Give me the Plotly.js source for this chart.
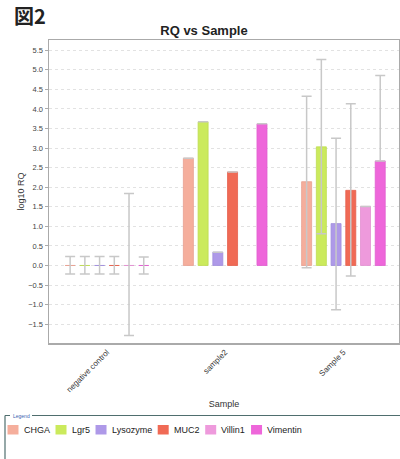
<!DOCTYPE html>
<html><head><meta charset="utf-8">
<script src="https://cdn.plot.ly/plotly-3.0.1.min.js"></script>
<style>html,body{margin:0;padding:0;background:#fff}#chart{width:400px;height:459px}</style>
</head><body><div id="chart"></div>
<script>
const categories = ['negative control', 'sample2', 'Sample 5'];
const seriesNames = ['CHGA', 'Lgr5', 'Lysozyme', 'MUC2', 'Villin1', 'Vimentin'];
const seriesColors = ['#F5AE9C', '#CBEA5C', '#AE99E8', '#F06A55', '#EE9ADC', '#EE66DA'];
const seriesLines = ['#E8A090', '#BEDC52', '#A08EDC', '#E4604C', '#E290D0', '#E05ECE'];

const CHGA = [0, 2.74, 2.14];
const Lgr5 = [0, 3.67, 3.03];
const Lysozyme = [0, 0.34, 1.07];
const MUC2 = [0, 2.39, 1.92];
const Villin1 = [0, null, 1.51];
const Vimentin = [0, 3.62, 2.67];

const CHGA_errPlus = [0.23, null, 2.18];
const CHGA_errMinus = [0.22, null, 2.20];
const Lgr5_errPlus = [0.23, null, 2.23];
const Lgr5_errMinus = [0.22, null, 2.22];
const Lysozyme_errPlus = [0.23, null, 2.18];
const Lysozyme_errMinus = [0.22, null, 2.20];
const MUC2_errPlus = [0.23, null, 2.21];
const MUC2_errMinus = [0.22, null, 2.19];
const Villin1_errPlus = [1.84, null, null];
const Villin1_errMinus = [1.79, null, null];
const Vimentin_errPlus = [0.22, null, 2.18];
const Vimentin_errMinus = [0.22, null, 0];

const values = [CHGA, Lgr5, Lysozyme, MUC2, Villin1, Vimentin];
const errPlus = [CHGA_errPlus, Lgr5_errPlus, Lysozyme_errPlus, MUC2_errPlus, Villin1_errPlus, Vimentin_errPlus];
const errMinus = [CHGA_errMinus, Lgr5_errMinus, Lysozyme_errMinus, MUC2_errMinus, Villin1_errMinus, Vimentin_errMinus];

const traces = seriesNames.map((name, i) => ({
  type: 'bar',
  name: name,
  x: categories,
  y: values[i],
  marker: {color: seriesColors[i], line: {color: seriesLines[i], width: 0.8}},
  error_y: {
    type: 'data', symmetric: false,
    array: errPlus[i], arrayminus: errMinus[i],
    color: '#c8c8c8', thickness: 1.5, width: 5
  },
  showlegend: false,
  hoverinfo: 'none'
}));

const F = 'Liberation Sans, Arial, sans-serif';
// plot area: x 49..399, y 40..343
const px = v => (v - 49) / 350;
const py = v => (343 - v) / 303;

// legend (drawn as shapes + text, built from the series arrays)
const legendFontSize = 9;
const ctx = document.createElement('canvas').getContext('2d');
ctx.font = legendFontSize + 'px "Liberation Sans"';
const legendShapes = [];
const legendAnnots = [];
let lx = 7.5;
seriesNames.forEach((name, i) => {
  legendShapes.push({type: 'rect', xref: 'paper', yref: 'paper',
    x0: px(lx), x1: px(lx + 11), y0: py(425), y1: py(434.5),
    fillcolor: seriesColors[i], line: {width: 0}});
  const tx = lx + 15;
  legendAnnots.push({text: name, xref: 'paper', yref: 'paper', x: px(tx), y: py(429.8),
    xanchor: 'left', yanchor: 'middle', showarrow: false, borderpad: 0,
    font: {size: legendFontSize, color: '#222', family: F}});
  lx = tx + ctx.measureText(name).width + 7;
});

const layout = {
  width: 400, height: 459,
  margin: {l: 49, r: 1, t: 40, b: 116},
  paper_bgcolor: '#fff', plot_bgcolor: '#fff',
  font: {family: F, color: '#333'},
  title: {text: '<b>RQ vs Sample</b>', font: {size: 13, color: '#222', family: F}, x: 0.51, xanchor: 'center', y: 1 - 30/459, yanchor: 'middle'},
  barmode: 'group', bargap: 0.253, bargroupgap: 0.32,
  showlegend: false,
  xaxis: {
    type: 'category', range: [-0.49, 2.47],
    tickangle: -45, tickfont: {size: 8, color: '#333'},
    showgrid: false, zeroline: false,
    showline: true, linecolor: '#aaa', linewidth: 1.5, mirror: true,
    ticks: '', fixedrange: true,
    title: {text: 'Sample', font: {size: 9, color: '#333'}, standoff: 7}
  },
  yaxis: {
    range: [-1.98, 5.76], dtick: 0.5, tick0: 0, tickformat: '.1f',
    tickfont: {size: 7.5, color: '#444'},
    showgrid: true, gridcolor: '#e2e2e2', griddash: 'dot', gridwidth: 1,
    zeroline: false,
    showline: true, linecolor: '#aaa', linewidth: 1.5, mirror: true,
    ticks: 'outside', ticklen: 3, tickcolor: '#aaa',
    title: {text: 'log10 RQ', font: {size: 9, color: '#333'}, standoff: 2}
  },
  shapes: [
    {type: 'line', xref: 'paper', yref: 'paper', x0: px(5), x1: px(402), y0: py(415.5), y1: py(415.5), line: {color: '#4f6e6e', width: 1.2}},
    {type: 'line', xref: 'paper', yref: 'paper', x0: px(5), x1: px(5), y0: py(415.5), y1: py(462), line: {color: '#4f6e6e', width: 1.2}},
    {type: 'rect', xref: 'paper', yref: 'paper', x0: px(10), x1: px(32), y0: py(412), y1: py(419), fillcolor: '#fff', line: {width: 0}}
  ].concat(legendShapes),
  annotations: [
    {text: '<b>図2</b>', xref: 'paper', yref: 'paper', x: px(12), y: py(16), xanchor: 'left', yanchor: 'middle', showarrow: false,
     font: {size: 20, color: '#222', family: 'Noto Sans CJK JP, sans-serif'}},
    {text: 'Legend', xref: 'paper', yref: 'paper', x: px(11), y: py(415.5), xanchor: 'left', yanchor: 'middle', showarrow: false,
     font: {size: 5, color: '#3a62b0', family: F}}
  ].concat(legendAnnots)
};

Plotly.newPlot('chart', traces, layout, {displayModeBar: false, staticPlot: true});
</script></body></html>
